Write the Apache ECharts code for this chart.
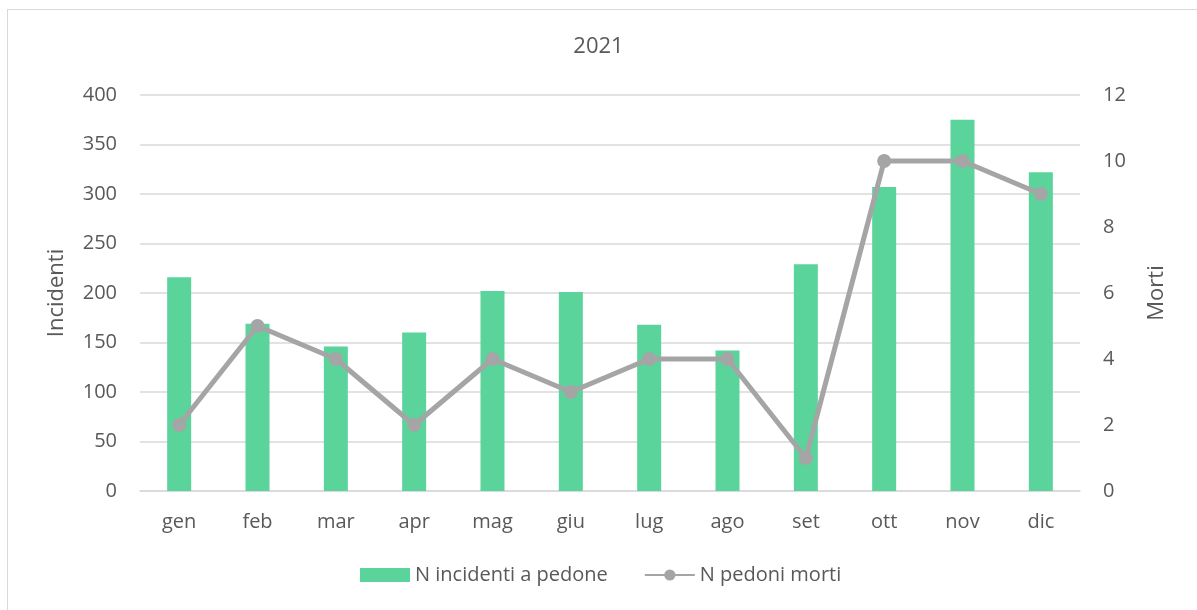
<!DOCTYPE html>
<html><head><meta charset="utf-8">
<script src="https://cdn.jsdelivr.net/npm/echarts@6/dist/echarts.min.js"></script>
<style>
html,body{margin:0;padding:0;background:#fff;overflow:hidden}
#frame{position:absolute;left:7px;top:9px;width:1200px;height:620px;border:1px solid #D9D9D9;box-sizing:border-box}
#c{position:absolute;left:0;top:0;width:1197px;height:610px}
</style></head>
<body>
<div id="frame"></div>
<div id="c"></div>
<script>
const title = '2021';
const months = ['gen','feb','mar','apr','mag','giu','lug','ago','set','ott','nov','dic'];
const incidenti = [216,169,146,160,202,201,168,142,229,307,375,322];
const morti = [2,5,4,2,4,3,4,4,1,10,10,9];
const leftTicks = [0,50,100,150,200,250,300,350,400];
const rightTicks = [0,2,4,6,8,10,12];

const font = '"Open Sans", "Noto Sans", sans-serif';
const chart = echarts.init(document.getElementById('c'), null, {renderer:'canvas'});
chart.setOption({
  backgroundColor: 'transparent',
  animation: false,
  title: {text: title, left: 'center', top: 31, textStyle:{fontFamily: font, fontSize: 22, fontWeight: 'normal', color:'#595959'}},
  grid: {left: 140, right: 117, top: 95, bottom: 119},
  legend: {
    bottom: 20, left: 355, itemGap: 36, itemWidth: 50, itemHeight: 14,
    textStyle: {fontFamily: font, fontSize: 20, color:'#595959'},
    data: [{name:'N incidenti a pedone', icon:'rect'}, {name:'N pedoni morti'}]
  },
  xAxis: {
    type: 'category', data: months,
    axisLine: {lineStyle:{color:'#D9D9D9', width:1.5}},
    axisTick: {show:false},
    axisLabel: {fontFamily: font, fontSize: 20, color:'#595959', margin: 21}
  },
  yAxis: [
    {type:'value', min: leftTicks[0], max: leftTicks[leftTicks.length-1], interval: 50,
     name:'Incidenti', nameLocation:'middle', nameGap: 72, nameRotate: 90,
     nameTextStyle:{fontFamily: font, fontSize: 22, color:'#595959'},
     axisLabel:{fontFamily: font, fontSize: 20, color:'#595959', margin: 23},
     splitLine:{lineStyle:{color:'#D9D9D9', width:1.5}}, axisLine:{show:false}, axisTick:{show:false}},
    {type:'value', min: rightTicks[0], max: rightTicks[rightTicks.length-1], interval: 2,
     name:'Morti', nameLocation:'middle', nameGap: 66, nameRotate: 90,
     nameTextStyle:{fontFamily: font, fontSize: 22, color:'#595959'},
     axisLabel:{fontFamily: font, fontSize: 20, color:'#595959', margin: 23},
     splitLine:{show:false}, axisLine:{show:false}, axisTick:{show:false}}
  ],
  series: [
    {name:'N incidenti a pedone', type:'bar', data: incidenti, barWidth: 24,
     itemStyle:{color:'#5AD49A'}},
    {name:'N pedoni morti', type:'line', yAxisIndex: 1, data: morti,
     symbol:'circle', symbolSize: 14,
     lineStyle:{color:'#A5A5A5', width: 5},
     itemStyle:{color:'#A5A5A5'}}
  ]
});
</script>
</body></html>
